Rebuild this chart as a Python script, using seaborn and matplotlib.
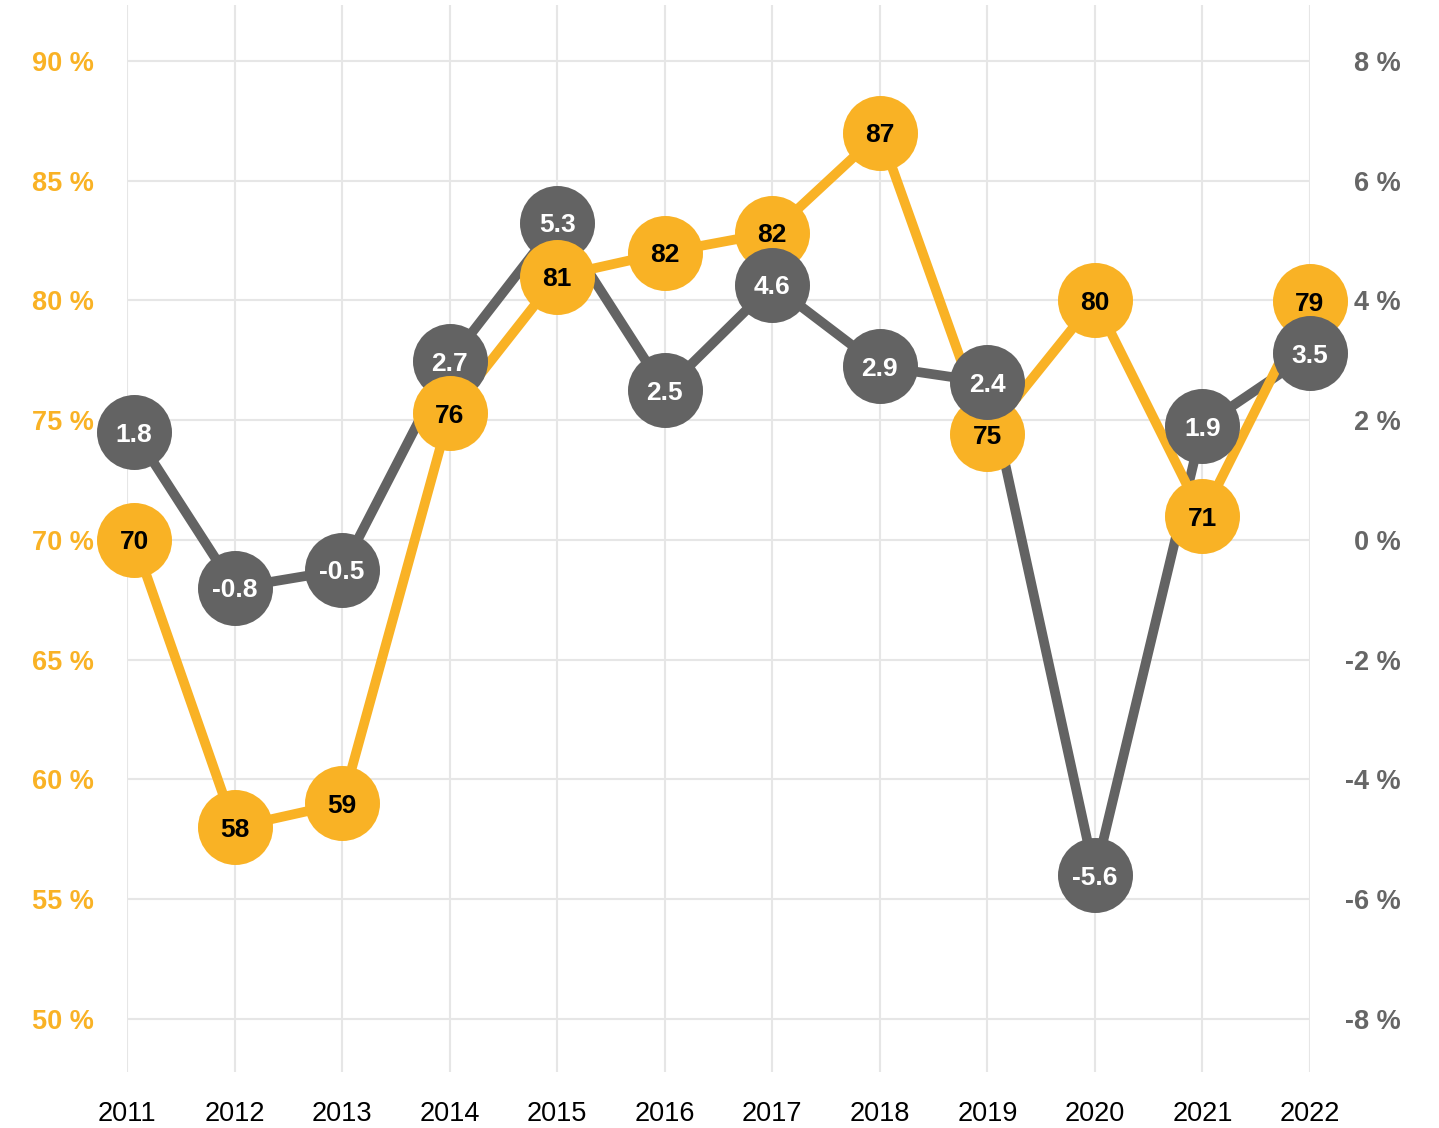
import matplotlib
matplotlib.use("Agg")
import matplotlib.pyplot as plt
import seaborn as sns
import pandas as pd

years = [2011, 2012, 2013, 2014, 2015, 2016, 2017, 2018, 2019, 2020, 2021, 2022]
share = [70, 58, 59, 76, 81, 82, 82, 87, 75, 80, 71, 79]            # left axis, %
growth = [1.8, -0.8, -0.5, 2.7, 5.3, 2.5, 4.6, 2.9, 2.4, -5.6, 1.9, 3.5]  # right axis, %
left_ticks = [50, 55, 60, 65, 70, 75, 80, 85, 90]
right_ticks = [-8, -6, -4, -2, 0, 2, 4, 6, 8]
# which series' bubble is drawn on top at each year
on_top = ["g", "g", "g", "o", "o", "g", "g", "g", "g", "g", "o", "g"]

ORANGE = "#F9B225"
GREY = "#636363"

sns.set_theme(style="white")
plt.rcParams["font.family"] = ["Liberation Sans", "DejaVu Sans"]
plt.rcParams["axes.unicode_minus"] = False

def g2l(g):
    return 70 + 2.5 * g

def l2g(l):
    return (l - 70) / 2.5

W, H = 1439, 1128
AX_L, AX_R, AX_T, AX_B = 127, 1310, 5, 1072
XLIM = (2011, 2022)
YLIM = (47.787, 92.338)
MS = 54                      # bubble diameter in points
RADIUS_PX = MS * 100 / 72 / 2
YPAD_PT = 24
TICK_FS = 19.5
LABEL_FS = 19

fig = plt.figure(figsize=(W / 100, H / 100), dpi=100)
fig.patch.set_facecolor("white")
ax = fig.add_axes([AX_L / W, 1 - AX_B / H, (AX_R - AX_L) / W, (AX_B - AX_T) / H])
ax.set_facecolor("white")
ax.set_xlim(*XLIM)
ax.set_ylim(*YLIM)

# --- simple bubble collision avoidance (like the original's label layout) ---
y_per_px = (YLIM[1] - YLIM[0]) / (AX_B - AX_T)
x_per_px = (XLIM[1] - XLIM[0]) / (AX_R - AX_L)
min_sep = 52 * y_per_px
xmin_center = XLIM[0] + (RADIUS_PX + 3 - YPAD_PT * 100 / 72) * x_per_px

df = pd.DataFrame({"year": years, "share": share, "growth": growth})
df["g_l"] = df["growth"].map(g2l)
s_pos, g_pos, x_pos = [], [], []
for yr, s, gl in zip(df["year"], df["share"], df["g_l"]):
    d = s - gl
    if abs(d) < min_sep:
        push = (min_sep - abs(d)) / 2
        sign = 1 if d >= 0 else -1
        s, gl = s + sign * push, gl - sign * push
    s_pos.append(s)
    g_pos.append(gl)
    x_pos.append(max(yr, xmin_center))
df["x_pos"] = x_pos
df["s_pos"] = s_pos
df["g_pos"] = g_pos

sns.lineplot(data=df, x="x_pos", y="g_pos", ax=ax, color=GREY, lw=7, zorder=3,
             sort=False, legend=False)
sns.lineplot(data=df, x="x_pos", y="s_pos", ax=ax, color=ORANGE, lw=7, zorder=4,
             sort=False, legend=False)
for line in ax.lines:
    line.set_solid_capstyle("round")
    line.set_clip_on(False)

for i, row in df.iterrows():
    zo = 10 if on_top[i] == "o" else 6
    zg = 10 if on_top[i] == "g" else 6
    ax.scatter([row["x_pos"]], [row["s_pos"]], s=MS ** 2, color=ORANGE, zorder=zo,
               clip_on=False, linewidths=0)
    ax.text(row["x_pos"], row["s_pos"], f"{share[i]}", ha="center", va="center_baseline",
            color="black", fontsize=LABEL_FS, fontweight="bold", zorder=zo + 0.5)
    ax.scatter([row["x_pos"]], [row["g_pos"]], s=MS ** 2, color=GREY, zorder=zg,
               clip_on=False, linewidths=0)
    ax.text(row["x_pos"], row["g_pos"], f"{growth[i]:g}", ha="center", va="center_baseline",
            color="white", fontsize=LABEL_FS, fontweight="bold", zorder=zg + 0.5)

ax.set_xlim(*XLIM)
ax.set_ylim(*YLIM)
ax.set_xticks(years)
ax.set_xticklabels([str(y) for y in years], fontsize=TICK_FS, color="black")
ax.set_yticks(left_ticks)
ax.set_yticklabels([f"{v} %" for v in left_ticks], fontsize=TICK_FS, color=ORANGE, fontweight="bold")
ax.tick_params(axis="x", length=0, pad=21)
ax.tick_params(axis="y", length=0, pad=YPAD_PT)
ax.set_xlabel("")
ax.set_ylabel("")
ax.grid(True, color="#e6e6e6", lw=1.5, zorder=0)
ax.set_axisbelow(True)
for s in ax.spines.values():
    s.set_visible(False)

sec = ax.secondary_yaxis("right", functions=(l2g, g2l))
sec.set_yticks(right_ticks)
sec.set_yticklabels([f"{v} %" for v in right_ticks], fontsize=TICK_FS, color="#666666", fontweight="bold")
sec.tick_params(axis="y", length=0, pad=65)
for lbl in sec.get_yticklabels():
    lbl.set_horizontalalignment("right")
for s in sec.spines.values():
    s.set_visible(False)

fig.savefig("out.png", dpi=100, facecolor="white")
